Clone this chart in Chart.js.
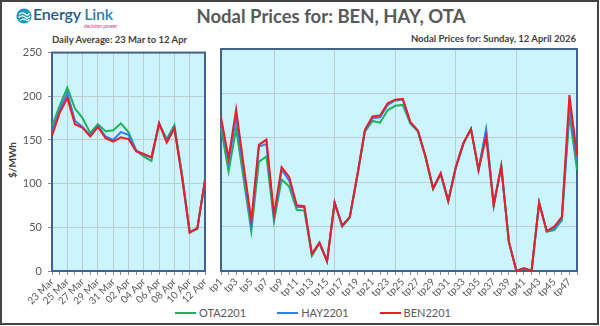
<!DOCTYPE html>
<html>
<head>
<meta charset="utf-8">
<script src="https://cdn.jsdelivr.net/npm/chart.js@4.4.1/dist/chart.umd.min.js"></script>
<style>
  html, body { margin: 0; padding: 0; background: #fff; }
  #wrap { position: relative; width: 600px; height: 326px; overflow: hidden; font-family: Lato, 'Noto Sans', sans-serif; }
  #frame { position: absolute; left: 0; top: 0; width: 595px; height: 321px; border: 2px solid #444; }
  canvas { position: absolute; }
  .txt { position: absolute; white-space: nowrap; }
  #title { left: 10px; width: 642px; text-align: center; top: 5px; font-size: 18.5px; font-weight: 700; color: #595959; }
  #subL { left: 52px; top: 34px; font-size: 9.5px; font-weight: 700; color: #404040; }
  #subR { right: 24px; top: 33px; font-size: 9.5px; font-weight: 700; color: #404040; }
  #ytitle { left: 12px; top: 160px; transform: translate(-50%, -50%) rotate(-90deg); font-size: 10px; font-weight: 700; color: #404040; }
  #logo { left: 33px; top: 4px; font-size: 16px; font-weight: 600; color: #1f5d86; letter-spacing: -0.2px; }
  #logo span { color: #2b82ad; }
  #tag { left: 84px; top: 23px; font-size: 5px; color: #e0307a; }
  #legend { position: absolute; left: 0; width: 626px; top: 306px; display: flex; justify-content: center; gap: 31px; font-size: 11px; color: #595959; }
  .item { display: flex; align-items: center; }
  .swatch { width: 21px; height: 2px; margin-right: 3px; }
</style>
</head>
<body>
<div id="wrap">
  <div id="frame"></div>
  <svg class="txt" style="left:16px;top:8px" width="16" height="16" viewBox="0 0 16 16">
    <circle cx="8" cy="8" r="7.6" fill="#1a9bbd"/>
    <path d="M3 6.5 Q6 3.5 9 6 T13.5 5" stroke="#fff" stroke-width="1.4" fill="none"/>
    <path d="M2.5 9.5 Q6 6.5 9 9 T14 8" stroke="#fff" stroke-width="1.4" fill="none"/>
    <path d="M4 12.5 Q7 10 10 12 T13 11" stroke="#fff" stroke-width="1.2" fill="none"/>
  </svg>
  <div class="txt" id="logo">Energy <span>Link</span></div>
  <div class="txt" id="tag">decision power</div>
  <div class="txt" id="title">Nodal Prices for: BEN, HAY, OTA</div>
  <div class="txt" id="subL">Daily Average: 23 Mar to 12 Apr</div>
  <div class="txt" id="subR">Nodal Prices for: Sunday, 12 April 2026</div>
  <div class="txt" id="ytitle">$/MWh</div>
  <canvas id="daily" width="215" height="265" style="left:0;top:40px"></canvas>
  <canvas id="periods" width="390" height="265" style="left:200px;top:40px"></canvas>
  <div id="legend"></div>
</div>
<script>
// series
const SERIES = ['OTA2201', 'HAY2201', 'BEN2201'];
const COLORS = ['#1fb25a', '#2f7ff2', '#ee1c25'];

// daily averages, 23 Mar - 12 Apr
const DAY_LABELS = ['23 Mar', '24 Mar', '25 Mar', '26 Mar', '27 Mar', '28 Mar', '29 Mar', '30 Mar', '31 Mar', '01 Apr',
  '02 Apr', '03 Apr', '04 Apr', '05 Apr', '06 Apr', '07 Apr', '08 Apr', '09 Apr', '10 Apr', '11 Apr', '12 Apr'];
const OTA_DAILY = [166, 189, 210, 186, 175, 158, 168, 160, 161, 169, 159, 138, 131, 126, 169, 151, 167, 111, 45, 48, 104];
const HAY_DAILY = [160, 184, 204, 172, 165, 155, 166, 154, 150, 159, 156, 138, 133, 130, 169, 149, 164, 109, 44, 49, 104];
const BEN_DAILY = [155, 181, 198, 168, 164, 154, 165, 152, 148, 153, 151, 137, 134, 130, 169, 147, 163, 107, 44, 49, 104];

// trading periods, Sunday 12 April
const TP_LABELS = ['tp1', 'tp2', 'tp3', 'tp4', 'tp5', 'tp6', 'tp7', 'tp8', 'tp9', 'tp10', 'tp11', 'tp12',
  'tp13', 'tp14', 'tp15', 'tp16', 'tp17', 'tp18', 'tp19', 'tp20', 'tp21', 'tp22', 'tp23', 'tp24',
  'tp25', 'tp26', 'tp27', 'tp28', 'tp29', 'tp30', 'tp31', 'tp32', 'tp33', 'tp34', 'tp35', 'tp36',
  'tp37', 'tp38', 'tp39', 'tp40', 'tp41', 'tp42', 'tp43', 'tp44', 'tp45', 'tp46', 'tp47', 'tp48'];
const OTA_TP = [161, 112, 160, 103, 45, 123, 129, 56, 103, 95, 69, 68, 17, 31, 11, 77, 50, 60, 107, 157, 169, 167, 181, 186,
  187, 166, 157, 128, 92, 109, 78, 116, 143, 160, 113, 159, 74, 118, 33, 0, 3, 0, 77, 44, 46, 57, 176, 114];
const HAY_TP = [170, 123, 174, 113, 51, 140, 143, 60, 114, 102, 72, 72, 19, 32, 11, 77, 51, 61, 108, 158, 172, 173, 187, 192,
  193, 167, 158, 129, 93, 110, 79, 117, 144, 160, 114, 159, 74, 118, 33, 0, 3, 0, 77, 45, 48, 59, 185, 125];
const BEN_TP = [173, 127, 182, 118, 57, 142, 148, 63, 117, 106, 74, 73, 19, 32, 11, 77, 51, 61, 108, 159, 174, 175, 189, 193,
  194, 168, 158, 129, 93, 110, 79, 117, 144, 160, 114, 151, 74, 118, 33, 0, 3, 0, 77, 45, 50, 61, 198, 130];

const Y_MIN = 0, Y_MAX = 250, Y_STEP = 50;

const PLOT_BG = '#cbf4fd';
const PLOT_EDGE = '#41618e';
const GRID = '#bfcbd0';
const TICK = '#8c8c8c';
const CLEAR = 'rgba(0,0,0,0)';

// light cyan fill and the blue box round each plot
const plotFrame = {
    id: 'plotFrame',
    beforeDraw(chart) {
        const { ctx, chartArea: a } = chart;
        ctx.save();
        ctx.fillStyle = PLOT_BG;
        ctx.fillRect(a.left, a.top, a.right - a.left, a.bottom - a.top);
        ctx.restore();
    },
    beforeDatasetsDraw(chart) {
        const { ctx, chartArea: a } = chart;
        ctx.save();
        ctx.strokeStyle = PLOT_EDGE;
        ctx.lineWidth = 2;
        ctx.strokeRect(a.left, a.top, a.right - a.left, a.bottom - a.top);
        ctx.restore();
    }
};

function makeChart(id, labels, values, gridEvery, gridAt, showY, padding) {
    return new Chart(document.getElementById(id), {
        type: 'line',
        data: {
            labels: labels,
            datasets: SERIES.map((name, k) => ({
                label: name,
                data: values[k],
                borderColor: COLORS[k],
                backgroundColor: COLORS[k],
                borderWidth: 2,
                pointRadius: 0,
                tension: 0,
                order: SERIES.length - k
            }))
        },
        options: {
            responsive: false,
            animation: false,
            layout: { padding: padding },
            plugins: { legend: { display: false }, tooltip: { enabled: false } },
            scales: {
                x: {
                    offset: false,
                    border: { display: false },
                    grid: {
                        color: c => (c.index % gridEvery === gridAt ? GRID : CLEAR),
                        tickColor: TICK,
                        tickLength: 4
                    },
                    ticks: {
                        autoSkip: false,
                        maxRotation: 45,
                        minRotation: 45,
                        padding: 1,
                        color: '#595959',
                        font: { family: 'Lato', size: 10 },
                        callback: (v, i) => (i % 2 === 0 ? labels[i] : '')
                    },
                    afterFit: s => { s.height = 34; }
                },
                y: {
                    min: Y_MIN,
                    max: Y_MAX,
                    border: { display: false },
                    grid: {
                        color: c => (c.tick.value > Y_MIN && c.tick.value < Y_MAX ? GRID : CLEAR),
                        tickColor: showY ? TICK : CLEAR,
                        drawTicks: showY,
                        tickLength: 4
                    },
                    ticks: {
                        display: showY,
                        stepSize: Y_STEP,
                        padding: 6,
                        color: '#595959',
                        font: { family: 'Lato', size: 11 }
                    },
                    afterFit: s => { s.width = showY ? 52 : 0; }
                }
            }
        },
        plugins: [plotFrame]
    });
}

makeChart('daily', DAY_LABELS, [OTA_DAILY, HAY_DAILY, BEN_DAILY], 2, 0, true,
    { top: 9, right: 10, bottom: 0, left: 0 });
makeChart('periods', TP_LABELS, [OTA_TP, HAY_TP, BEN_TP], 8, 7, false,
    { top: 9, right: 13, bottom: 0, left: 21 });

// legend shared by both panels
const legend = document.getElementById('legend');
SERIES.forEach((name, k) => {
    const item = document.createElement('div');
    item.className = 'item';
    item.innerHTML = `<div class="swatch" style="background:${COLORS[k]}"></div>${name}`;
    legend.appendChild(item);
});
</script>
</body>
</html>
